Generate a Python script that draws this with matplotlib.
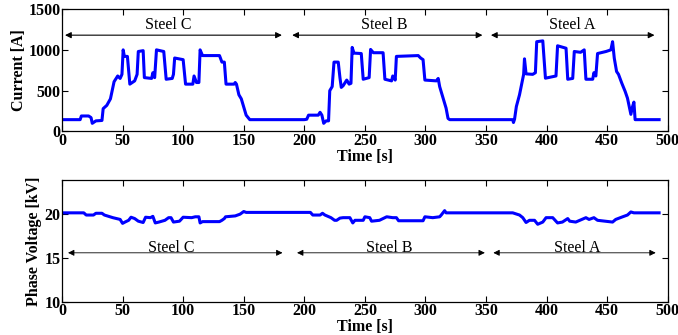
import numpy as np
import matplotlib.pyplot as plt

plt.rcParams['font.family'] = ['Liberation Serif', 'DejaVu Serif']

# current trace [s], [A]
t_cur = [0, 15, 16, 22, 24, 25, 28, 33, 34, 37, 40, 43, 46, 48, 49.5, 50.5, 51.5, 54, 56, 60, 62, 63,
         67, 68, 74, 75, 76.5, 78, 84, 86, 91, 92, 93, 100, 102, 108, 109, 111, 113, 114, 116, 130,
         132, 134, 135.4, 142, 143, 144, 146, 148, 150, 152, 155, 200, 202, 203.5, 211.5, 213, 214.5,
         216, 218, 220, 221, 223, 224.5, 228, 229.4, 230.5, 232, 235, 237, 238.5, 239.5, 241, 247,
         248.6, 253.5, 254.7, 257, 265, 266.5, 272, 273, 275, 276, 294, 296, 298, 299.5, 309, 310.5,
         311.7, 314.5, 317, 318.6, 320, 372, 372.6, 373.5, 375, 377.6, 379.8, 381, 381.7, 383, 388.5,
         390.7, 391.8, 396.8, 399, 407.7, 409, 416, 417.4, 421.5, 422.8, 428, 431, 432.4, 438, 439,
         440.6, 442, 449, 453, 454.4, 455.8, 457.7, 459.3, 462, 464.8, 466.7, 469.5, 470.8, 472, 473,
         492.8]
cur = [145, 145, 190, 190, 170, 100, 130, 135, 280, 320, 400, 610, 680, 650, 700, 1000, 920, 920, 580,
       620, 700, 980, 990, 660, 650, 720, 660, 1000, 980, 640, 650, 700, 900, 880, 580, 580, 680, 600,
       600, 1000, 930, 930, 850, 850, 580, 580, 600, 580, 450, 400, 300, 200, 145, 145, 150, 200, 200,
       235, 200, 100, 130, 130, 500, 550, 850, 850, 660, 540, 560, 630, 580, 590, 1030, 960, 955, 640,
       660, 1005, 965, 965, 640, 620, 680, 630, 920, 930, 900, 880, 630, 620, 650, 550, 410, 286, 160,
       145, 145, 110, 150, 306, 450, 612, 700, 890, 706, 700, 720, 1100, 1110, 653, 680, 1050, 1020, 640,
       650, 980, 970, 1000, 640, 640, 720, 680, 955, 980, 1000, 1100, 898, 735, 700, 592, 490, 408, 210,
       300, 360, 145, 145]

# phase voltage trace [s], [kV]
t_volt = [0, 18, 20, 26, 28, 33, 35, 42, 45, 48, 50, 52, 55, 57, 60, 63, 67, 69, 73, 75, 77, 80, 85,
          88, 90, 92, 97, 100, 107, 110, 113, 114, 116, 130, 132, 134, 135, 143, 147, 150, 152, 205,
          207, 213, 215, 217, 222, 225, 226.7, 229.4, 232, 237.6, 240, 241.8, 246, 248.6, 250, 254,
          255.5, 262, 268, 273, 276, 277.8, 298, 299.5, 306, 311.7, 313, 315.8, 317, 318.6, 372, 377.6,
          380.3, 383, 385.8, 390, 392.6, 396.8, 399.5, 405, 409, 413, 417.4, 419, 424, 432.4, 435, 439,
          442, 454.4, 457, 462.7, 466.7, 469.5, 472, 492.8]
volt = [20.15, 20.15, 19.9, 19.9, 20.1, 20.1, 19.9, 19.6, 19.5, 19.4, 18.95, 19.1, 19.3, 19.65, 19.5,
        19.2, 19.05, 19.65, 19.6, 19.75, 19.0, 19.1, 19.3, 19.6, 19.6, 19.1, 19.2, 19.65, 19.6, 19.7,
        19.7, 19.0, 19.15, 19.15, 19.3, 19.5, 19.7, 19.8, 20.0, 20.3, 20.2, 20.2, 19.9, 19.9, 20.1, 19.9,
        19.6, 19.3, 19.3, 19.55, 19.6, 19.6, 19.0, 19.3, 19.3, 19.3, 19.7, 19.6, 19.2, 19.3, 19.7, 19.6,
        19.6, 19.25, 19.25, 19.7, 19.6, 19.7, 19.9, 20.4, 20.15, 20.15, 20.15, 19.9, 19.6, 19.05, 19.3,
        19.3, 18.85, 19.1, 19.6, 19.6, 19.0, 19.1, 19.5, 19.2, 19.1, 19.6, 19.4, 19.6, 19.3, 19.1, 19.4,
        19.7, 19.9, 20.25, 20.15, 20.15]

steels = ['Steel C', 'Steel B', 'Steel A']
label_x = [88, 266, 421]
cur_spans = [(2.5, 181.5), (190, 347), (354, 489)]
volt_spans = [(5, 182), (194, 349), (356, 490)]

fig = plt.figure(figsize=(6.78, 3.35), dpi=100)
ax1 = fig.add_axes([0.0914, 0.6075, 0.8936, 0.3655])
ax2 = fig.add_axes([0.0914, 0.0985, 0.8936, 0.3645])

ax1.plot(t_cur, cur, color='#0000ff', lw=2.2)
ax2.plot(t_volt, volt, color='#0000ff', lw=2.2)

for (a, b), name, lx in zip(cur_spans, steels, label_x):
    ax1.annotate('', xy=(b, 1180), xytext=(a, 1180),
                 arrowprops=dict(arrowstyle='<|-|>', color='k', lw=0.8,
                                 mutation_scale=9, shrinkA=0, shrinkB=0))
    ax1.text(lx, 1310, name, ha='center', va='center', fontsize=11.5)

for (a, b), name, lx in zip(volt_spans, steels, [90, 270, 425]):
    ax2.annotate('', xy=(b, 15.6), xytext=(a, 15.6),
                 arrowprops=dict(arrowstyle='<|-|>', color='k', lw=0.6,
                                 mutation_scale=9, shrinkA=0, shrinkB=0))
    ax2.text(lx, 16.2, name, ha='center', va='center', fontsize=11.5)

ax1.set_xlim(0, 500)
ax1.set_ylim(0, 1500)
ax1.set_yticks([0, 500, 1000, 1500])
ax1.set_ylabel('Current [A]', fontsize=11.5, fontweight='bold', labelpad=1)

ax2.set_xlim(0, 500)
ax2.set_ylim(10, 23.9)
ax2.set_yticks([10, 15, 20])
ax2.set_ylabel('Phase Voltage [kV]', fontsize=11.5, fontweight='bold', labelpad=2)

for ax in (ax1, ax2):
    ax.set_xticks(np.arange(0, 501, 50))
    ax.set_xlabel('Time [s]', fontsize=11.5, fontweight='bold', labelpad=0)
    ax.tick_params(direction='in', top=True, right=True, length=4, width=0.8,
                   labelsize=11.5, pad=1)
    for lab in ax.get_xticklabels() + ax.get_yticklabels():
        lab.set_fontweight('bold')
    for s in ax.spines.values():
        s.set_linewidth(0.9)

fig.savefig('out.png', dpi=100)
